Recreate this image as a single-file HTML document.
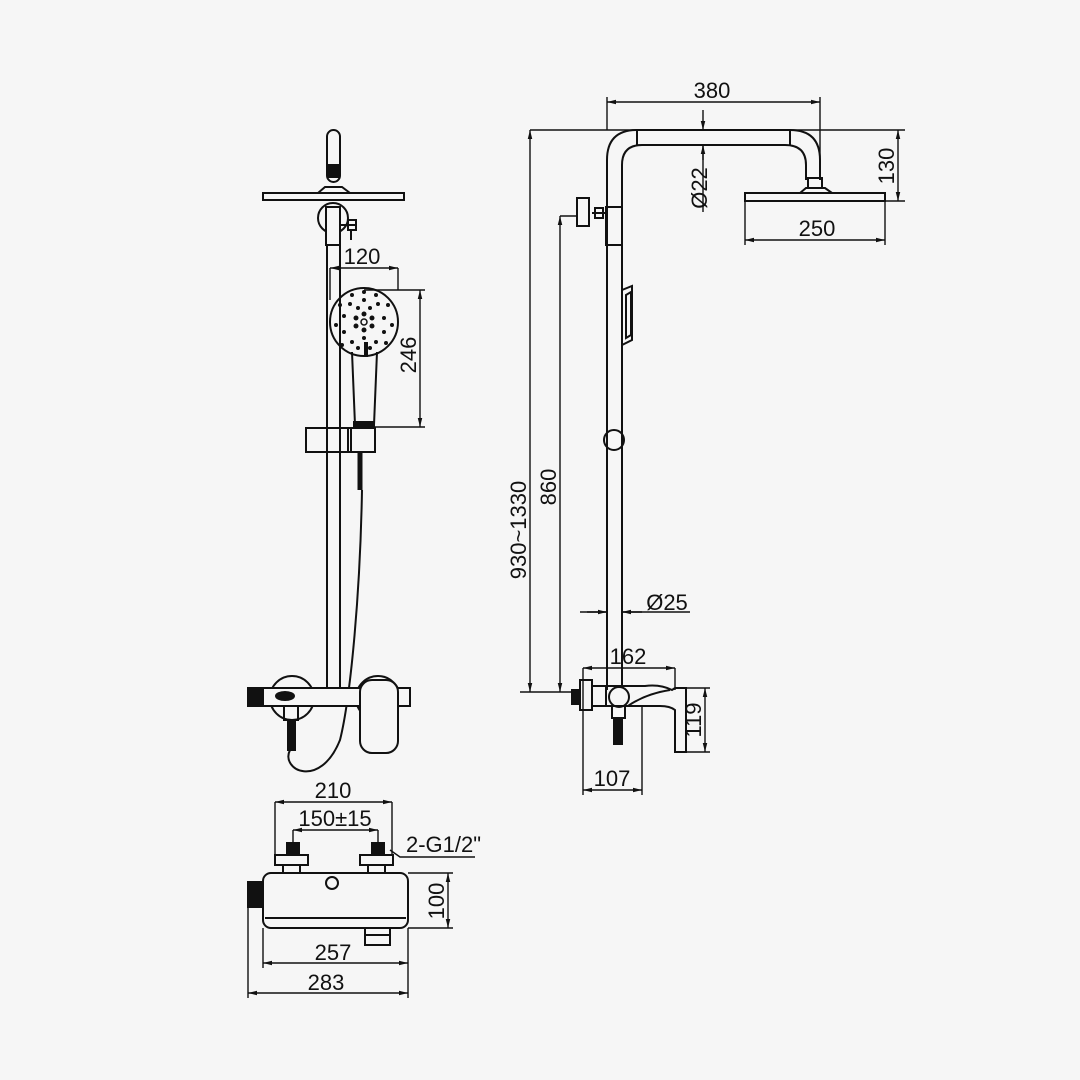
<!DOCTYPE html>
<html><head><style>
html,body{margin:0;padding:0;background:#f6f6f6}
svg{display:block}
text{font-family:"Liberation Sans",sans-serif;font-size:22px;fill:#111}
</style></head><body>
<svg width="1080" height="1080" viewBox="0 0 1080 1080" xmlns="http://www.w3.org/2000/svg">
<defs>
<marker id="a" viewBox="0 0 12 8" refX="12" refY="4" markerWidth="12" markerHeight="6" orient="auto-start-reverse" markerUnits="userSpaceOnUse"><path d="M0,1 L12,4 L0,7 Z" fill="#111"/></marker>
</defs>
<rect width="1080" height="1080" fill="#f6f6f6"/>
<g fill="none" stroke="#111" stroke-width="2">
<!-- LEFT FRONT VIEW -->
<rect x="327" y="130" width="13" height="52" rx="6.5"/>
<rect x="328" y="165" width="11" height="12" fill="#111"/>
<path d="M263,193 H404 V200 H263 Z"/>
<path d="M318,193 L325,187 H342 L350,193"/>
<circle cx="333" cy="218" r="15"/>
<rect x="326" y="207" width="14" height="38" fill="#f6f6f6"/>
<path d="M340,225 H355 M348,220 h8 v10 h-8 z M351,230 v10"/>
<line x1="327" y1="245" x2="327" y2="690"/>
<line x1="340" y1="245" x2="340" y2="690"/>
<circle cx="364" cy="322" r="34"/>
<path d="M352,352 L355,425 H374 L377,352"/>
<rect x="354" y="422" width="20" height="6" fill="#111"/>
<line x1="366" y1="342" x2="366" y2="357" stroke-width="4"/>
<rect x="306" y="428" width="45" height="24"/>
<rect x="348" y="428" width="27" height="24"/>
<path d="M360,452 V490" stroke-width="5"/>
<path d="M362,490 C360,600 350,700 340,740 C320,790 280,770 290,750"/>
<!-- front mixer -->
<circle cx="292" cy="698" r="22"/>
<circle cx="378" cy="698" r="22"/>
<rect x="248" y="688" width="162" height="18" fill="#f6f6f6"/>
<rect x="248" y="688" width="15" height="18" fill="#111"/>
<ellipse cx="285" cy="696" rx="9" ry="4" fill="#111"/>
<rect x="360" y="680" width="38" height="73" rx="12" fill="#f6f6f6"/>
<rect x="284" y="706" width="14" height="14"/>
<rect x="288" y="720" width="7" height="30" fill="#111"/>
<!-- BOTTOM VIEW -->
<rect x="263" y="873" width="145" height="55" rx="8"/>
<line x1="265" y1="918" x2="406" y2="918"/>
<rect x="248" y="882" width="15" height="25" fill="#111"/>
<circle cx="332" cy="883" r="6"/>
<path d="M365,928 V945 H390 V928 M365,935 H390"/>
<rect x="275" y="855" width="33" height="10"/>
<rect x="360" y="855" width="33" height="10"/>
<rect x="287" y="843" width="12" height="12" fill="#111"/>
<rect x="372" y="843" width="12" height="12" fill="#111"/>
<path d="M283,865 v8 M300,865 v8 M368,865 v8 M385,865 v8"/>
<!-- RIGHT SIDE VIEW -->
<path d="M607,690 V160 Q607,130 637,130 H790 Q820,130 820,160 V180"/>
<path d="M622,690 V165 Q622,145 642,145 H785 Q806,145 806,165 V180"/>
<path d="M637,130 V145 M790,130 V145"/>
<rect x="808" y="178" width="14" height="10"/>
<path d="M800,193 L806,188 H825 L832,193"/>
<rect x="745" y="193" width="140" height="8"/>
<rect x="606" y="207" width="16" height="38"/>
<path d="M592,213 H606 M595,208 h8 v10 h-8z"/>
<rect x="577" y="198" width="12" height="28"/>
<path d="M622,290 L632,286 L632,340 L622,345 Z M626,295 L631,292 L631,335 L626,338 Z"/>
<circle cx="614" cy="440" r="10"/>
<!-- side mixer -->
<rect x="572" y="690" width="8" height="14" fill="#111"/>
<rect x="580" y="680" width="12" height="30"/>
<rect x="592" y="686" width="14" height="20"/>
<path d="M602,686 H645 Q660,684 672,690 L675,688 H686 V752 H675 V710 Q670,706 660,706 H602"/>
<path d="M628,706 Q645,694 670,690"/>
<circle cx="619" cy="697" r="10" fill="#f6f6f6"/>
<rect x="612" y="706" width="13" height="12"/>
<rect x="614" y="718" width="8" height="26" fill="#111"/>
</g>
<!-- handshower dots -->
<g fill="#111">
<circle cx="364" cy="322" r="3" fill="none" stroke="#111" stroke-width="1.5"/>
<circle cx="364" cy="314" r="2.5"/><circle cx="364" cy="330" r="2.5"/><circle cx="356" cy="318" r="2.5"/><circle cx="372" cy="318" r="2.5"/><circle cx="356" cy="326" r="2.5"/><circle cx="372" cy="326" r="2.5"/>
<circle cx="350" cy="304" r="2"/><circle cx="364" cy="300" r="2"/><circle cx="378" cy="304" r="2"/><circle cx="384" cy="318" r="2"/><circle cx="384" cy="332" r="2"/><circle cx="376" cy="342" r="2"/><circle cx="352" cy="342" r="2"/><circle cx="344" cy="332" r="2"/><circle cx="344" cy="316" r="2"/>
<circle cx="340" cy="305" r="2"/><circle cx="352" cy="295" r="2"/><circle cx="376" cy="295" r="2"/><circle cx="388" cy="305" r="2"/><circle cx="392" cy="325" r="2"/><circle cx="386" cy="343" r="2"/><circle cx="342" cy="345" r="2"/><circle cx="336" cy="325" r="2"/><circle cx="358" cy="308" r="2"/><circle cx="370" cy="308" r="2"/><circle cx="364" cy="338" r="2"/><circle cx="358" cy="348" r="2"/><circle cx="370" cy="348" r="2"/><circle cx="364" cy="292" r="2"/>
</g>
<!-- DIMENSIONS -->
<g fill="none" stroke="#111" stroke-width="1.4">
<path d="M330,268 V300 M398,268 V290"/>
<line x1="330" y1="268" x2="398" y2="268" marker-start="url(#a)" marker-end="url(#a)"/>
<path d="M364,290 H425 M374,427 H425"/>
<line x1="420" y1="290" x2="420" y2="427" marker-start="url(#a)" marker-end="url(#a)"/>
<path d="M275,802 V855 M392,802 V855 M293,830 V843 M378,830 V843"/>
<line x1="275" y1="802" x2="392" y2="802" marker-start="url(#a)" marker-end="url(#a)"/>
<line x1="293" y1="830" x2="378" y2="830" marker-start="url(#a)" marker-end="url(#a)"/>
<path d="M390,850 L400,857 H475"/>
<path d="M408,873 H453 M408,928 H453"/>
<line x1="448" y1="873" x2="448" y2="928" marker-start="url(#a)" marker-end="url(#a)"/>
<path d="M263,928 V968 M408,928 V998 M248,907 V998"/>
<line x1="263" y1="963" x2="408" y2="963" marker-start="url(#a)" marker-end="url(#a)"/>
<line x1="248" y1="993" x2="408" y2="993" marker-start="url(#a)" marker-end="url(#a)"/>
<path d="M607,97 V130 M820,97 V160"/>
<line x1="607" y1="102" x2="820" y2="102" marker-start="url(#a)" marker-end="url(#a)"/>
<path d="M530,130 H905 M885,201 H905"/>
<line x1="898" y1="130" x2="898" y2="201" marker-start="url(#a)" marker-end="url(#a)"/>
<line x1="703" y1="110" x2="703" y2="130" marker-end="url(#a)"/>
<line x1="703" y1="160" x2="703" y2="145" marker-end="url(#a)"/>
<line x1="703" y1="145" x2="703" y2="212"/>
<path d="M745,201 V245 M885,201 V245"/>
<line x1="745" y1="240" x2="885" y2="240" marker-start="url(#a)" marker-end="url(#a)"/>
<line x1="530" y1="130" x2="530" y2="692" marker-start="url(#a)" marker-end="url(#a)"/>
<path d="M520,692 H572 M560,216 H577"/>
<line x1="560" y1="216" x2="560" y2="692" marker-start="url(#a)" marker-end="url(#a)"/>
<path d="M580,612 H607 M622,612 H690"/>
<line x1="587" y1="612" x2="607" y2="612" marker-end="url(#a)"/>
<line x1="642" y1="612" x2="622" y2="612" marker-end="url(#a)"/>
<path d="M583,668 V795 M675,668 V690 M642,706 V795"/>
<line x1="583" y1="668" x2="675" y2="668" marker-start="url(#a)" marker-end="url(#a)"/>
<line x1="583" y1="790" x2="642" y2="790" marker-start="url(#a)" marker-end="url(#a)"/>
<path d="M686,688 H710 M686,752 H710"/>
<line x1="705" y1="688" x2="705" y2="752" marker-start="url(#a)" marker-end="url(#a)"/>
</g>
<g>
<text x="362" y="264" text-anchor="middle">120</text>
<text transform="translate(416,355) rotate(-90)" text-anchor="middle">246</text>
<text x="333" y="798" text-anchor="middle">210</text>
<text x="335" y="826" text-anchor="middle">150±15</text>
<text x="406" y="852">2-G1/2"</text>
<text transform="translate(444,901) rotate(-90)" text-anchor="middle">100</text>
<text x="333" y="960" text-anchor="middle">257</text>
<text x="326" y="990" text-anchor="middle">283</text>
<text x="712" y="98" text-anchor="middle">380</text>
<text transform="translate(894,166) rotate(-90)" text-anchor="middle">130</text>
<text transform="translate(707,188) rotate(-90)" text-anchor="middle">Ø22</text>
<text x="817" y="236" text-anchor="middle">250</text>
<text transform="translate(526,530) rotate(-90)" text-anchor="middle">930~1330</text>
<text transform="translate(556,487) rotate(-90)" text-anchor="middle">860</text>
<text x="667" y="610" text-anchor="middle">Ø25</text>
<text x="628" y="664" text-anchor="middle">162</text>
<text transform="translate(701,720) rotate(-90)" text-anchor="middle">119</text>
<text x="612" y="786" text-anchor="middle">107</text>
</g>
</svg>
</body></html>
